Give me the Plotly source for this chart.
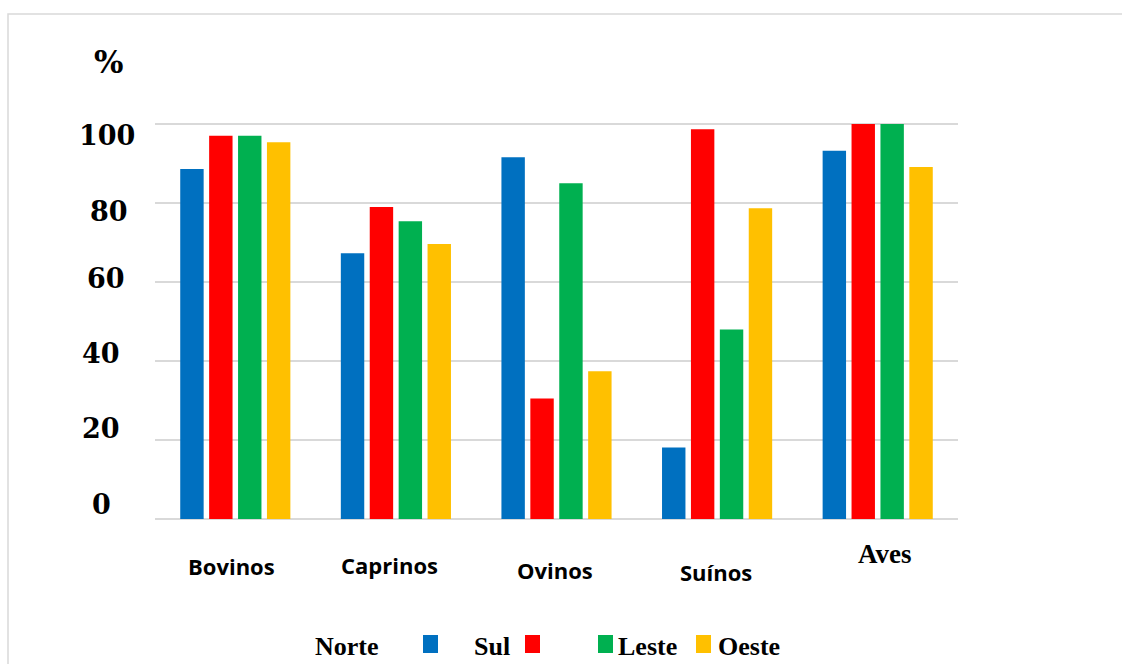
import plotly.graph_objects as go

# ---- data ----
categories = ["Bovinos", "Caprinos", "Ovinos", "Suínos", "Aves"]
series_names = ["Norte", "Sul", "Leste", "Oeste"]
norte = [88.6, 67.3, 91.6, 18.1, 93.2]
sul = [97.0, 79.0, 30.5, 98.7, 100.0]
leste = [97.0, 75.4, 85.0, 48.0, 100.0]
oeste = [95.4, 69.6, 37.4, 78.7, 89.1]
tick_labels = ["0", "20", "40", "60", "80", "100", "%"]

colors = ["#0070C0", "#FF0000", "#00B050", "#FFC000"]

W, H = 1122, 664
ML, MR, MT, MB = 155, 164, 45, 145
PW = W - ML - MR
PH = H - MT - MB


def px2x(px):
    return (px - ML) / PW


def px2y(py):
    return (H - MB - py) / PH


fig = go.Figure()
for name, vals, col in zip(series_names, [norte, sul, leste, oeste], colors):
    fig.add_trace(go.Bar(x=categories, y=vals, name=name, marker_color=col,
                         marker_line_width=0, showlegend=False))

fig.update_layout(
    width=W, height=H,
    margin=dict(l=ML, r=MR, t=MT, b=MB, pad=0),
    paper_bgcolor="white", plot_bgcolor="white",
    barmode="group", bargap=0.28, bargroupgap=0.19,
    xaxis=dict(showticklabels=False, showline=False, ticks="", showgrid=False),
    yaxis=dict(range=[0, 120], tickvals=[0, 20, 40, 60, 80, 100, 120],
               showticklabels=False, showgrid=True, gridcolor="#d9d9d9",
               gridwidth=1.5, zeroline=True, zerolinecolor="#d9d9d9",
               zerolinewidth=1.5, showline=False, ticks=""),
)

anns = []
# y-axis labels (a separate text column, as in the original)
label_pos = [(101, 504), (101, 428), (101, 354), (106, 278), (109, 211), (107, 135), (108, 62)]
for t, (lx, ly) in zip(tick_labels, label_pos):
    anns.append(dict(text=t, x=px2x(lx), y=px2y(ly), xref="paper", yref="paper",
                     xanchor="center", yanchor="middle", showarrow=False,
                     font=dict(family="DejaVu Serif", size=31 if t == "%" else 27,
                               color="black", weight="bold")))

# category labels
cat_pos = [(231.5, 565.5), (389.5, 565), (555, 569.5), (715.5, 572), (884.5, 554)]
for c, (cx, cy) in zip(categories, cat_pos):
    fam = "Liberation Serif" if c == "Aves" else "Open Sans"
    sz = 27 if c == "Aves" else 22
    anns.append(dict(text=c, x=px2x(cx), y=px2y(cy), xref="paper", yref="paper",
                     xanchor="center", yanchor="middle", showarrow=False,
                     font=dict(family=fam, size=sz, color="black", weight="bold")))

# custom legend
leg_text_x = [346.5, 491.5, 647, 749]
leg_sq_x = [423, 525, 598, 696]
for name, tx, sx, col in zip(series_names, leg_text_x, leg_sq_x, colors):
    anns.append(dict(text=name, x=px2x(tx), y=px2y(663), xref="paper", yref="paper",
                     xanchor="center", yanchor="bottom", showarrow=False,
                     font=dict(family="Liberation Serif", size=26, color="black", weight="bold")))
    fig.add_shape(type="rect", xref="paper", yref="paper",
                  x0=px2x(sx), x1=px2x(sx + 15), y0=px2y(653), y1=px2y(635),
                  fillcolor=col, line=dict(width=0))

# outer frame
fig.add_shape(type="rect", xref="paper", yref="paper",
              x0=px2x(8), x1=px2x(1140), y0=px2y(690), y1=px2y(14),
              fillcolor="rgba(0,0,0,0)", line=dict(color="#d9d9d9", width=1.5),
              layer="below")

fig.update_layout(annotations=anns)
fig.write_html("out.html")
